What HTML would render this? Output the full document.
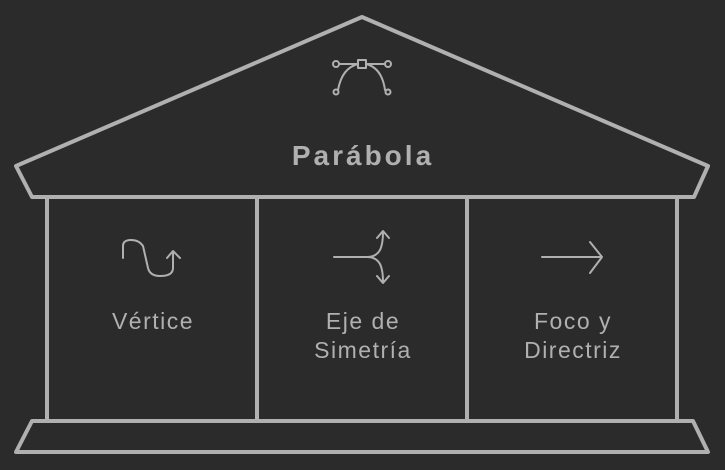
<!DOCTYPE html>
<html><head><meta charset="utf-8"><style>
html,body{margin:0;padding:0;background:#2b2b2b;}
svg{display:block}
text{font-family:"Liberation Sans",sans-serif;fill:#b0b0b0;text-anchor:middle}
</style></head><body>
<svg width="725" height="470" viewBox="0 0 725 470" xmlns="http://www.w3.org/2000/svg">
<rect width="725" height="470" fill="#2b2b2b"/>
<g fill="none" stroke="#b0b0b0" stroke-width="4" stroke-linejoin="round" stroke-linecap="round">
<path d="M362 17 L708 166 L694 197 L32 197 L16 166 Z"/>
<path d="M47 198 V420 M257 198 V420 M467 198 V420 M677 198 V420"/>
<path d="M32 421 L693 421 L708 452 L16 452 Z"/>
</g>
<g fill="none" stroke="#b0b0b0" stroke-width="2" stroke-linecap="round" stroke-linejoin="round">
<path d="M338 90 Q342 68 358 64 M366 64 Q382 68 385 90"/>
<path d="M340 64 H358 M366 64 H384"/>
<rect x="358" y="60" width="8" height="8"/>
<circle cx="336" cy="64" r="3"/><circle cx="388" cy="64" r="3"/>
<circle cx="336" cy="92" r="2.5"/><circle cx="388" cy="92" r="2.5"/>
<path d="M123 258 V246 Q123 240 131 240 Q139 240 143 246 L148 268 Q150 276 160 276 Q173 276 173 268 V252 M167 258 L173 251 L180 258"/>
<path d="M334 257 H367 Q376 257 380 250 Q383 244 383 232 M377 238 L383 231 L389 238 M367 257 Q376 257 380 264 Q383 270 383 282 M377 276 L383 283 L389 276"/>
<path d="M542 257 H602 M590 242 L602 257 L590 273"/>
</g>
<text x="363" y="165" font-size="28" font-weight="bold" letter-spacing="3">Parábola</text>
<text x="153" y="329" font-size="23" letter-spacing="1.5">Vértice</text>
<text x="363" y="329" font-size="23" letter-spacing="1.5">Eje de</text>
<text x="363" y="358" font-size="23" letter-spacing="1.5">Simetría</text>
<text x="573" y="329" font-size="23" letter-spacing="1.5">Foco y</text>
<text x="573" y="358" font-size="23" letter-spacing="1.5">Directriz</text>
</svg>
</body></html>
